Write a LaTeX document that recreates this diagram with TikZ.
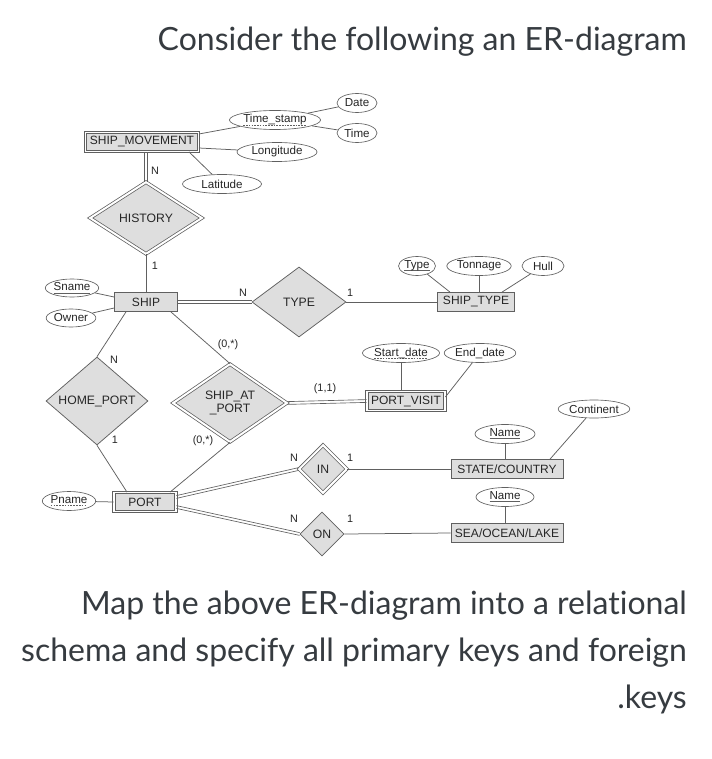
\documentclass[tikz,border=0pt]{standalone}
\usepackage{fontspec}
\setmainfont{Liberation Sans}
\newfontfamily\latofont[Ligatures={NoCommon}]{Lato}
\usetikzlibrary{shapes.geometric}
\definecolor{ln}{HTML}{606060}
\definecolor{fl}{HTML}{DEDEDE}
\definecolor{tx}{HTML}{262626}
\definecolor{hd}{HTML}{363B40}
\newcommand{\solidul}[1]{\setbox0\hbox{#1}\rlap{\raisebox{-2.2pt}{\color{ln}\rule{\wd0}{0.6pt}}}#1}
\newcommand{\dashul}[1]{\setbox0\hbox{#1}\rlap{\raisebox{-2.2pt}{\hbox to \wd0{\color{ln}\xleaders\hbox{\rule{1.6pt}{0.6pt}\hspace{1.1pt}}\hfill}}}#1}
\tikzset{
  ent/.style={draw=ln, fill=fl, line width=0.75pt, minimum height=19pt, inner sep=1pt, text=tx, font=\fontsize{12}{13.5}\selectfont},
  went/.style={ent, double=white, double distance=1.6pt},
  attr/.style={ellipse, draw=ln, fill=white, line width=0.65pt, minimum height=19pt, inner sep=0.5pt, text=tx, font=\fontsize{11.6}{12.5}\selectfont},
  rel/.style={diamond, draw=ln, fill=fl, line width=0.75pt, inner sep=0pt, text=tx, font=\fontsize{12.2}{13.5}\selectfont, align=center},
  wrel/.style={rel, double=white, double distance=2pt},
  conn/.style={draw=ln, line width=0.75pt},
  card/.style={text=tx, font=\fontsize{10.8}{12}\selectfont, inner sep=0pt},
  head/.style={text=hd, font=\latofont\fontsize{32}{38}\selectfont, inner sep=0pt}
}
\begin{document}
\begin{tikzpicture}[x=1pt,y=-1pt]
\useasboundingbox (0,0) rectangle (711,759);
\fill[white] (0,0) rectangle (711,759);

% headings
\node[head, anchor=base east] (title) at (687,51) {Consider the following an ER-diagram};
\node[head, anchor=base east] (b1) at (687,614) {Map the above ER-diagram into a relational};
\node[head, anchor=base east] (b2) at (687,661) {schema and specify all primary keys and foreign};
\node[head, anchor=base east] (b3) at (687,708) {.keys};

% entities
\node[went, minimum width=113pt] (sm) at (142,142) {SHIP\_MOVEMENT};
\node[ent, minimum width=63pt] (ship) at (146,302) {SHIP};
\node[ent, minimum width=77pt] (st) at (476,302) {SHIP\_TYPE};
\node[went, minimum width=78pt] (pv) at (406,401) {PORT\_VISIT};
\node[went, minimum width=62pt] (port) at (145,502) {PORT};
\node[ent, minimum width=112pt] (sc) at (507,469) {STATE/COUNTRY};
\node[ent, minimum width=112pt] (sol) at (507,533) {SEA/OCEAN/LAKE};

% relationships
\node[wrel, minimum width=112pt, minimum height=72pt] (hist) at (146,218) {HISTORY};
\node[rel, minimum width=94pt, minimum height=70pt] (type) at (299,302) {TYPE};
\node[wrel, minimum width=114pt, minimum height=78pt] (sap) at (230,403) {SHIP\_AT\\\_PORT};
\node[rel, minimum width=102pt, minimum height=72pt] (hp) at (97,401) {HOME\_PORT};
\node[wrel, minimum width=48pt, minimum height=48pt] (in) at (323,469) {IN};
\node[rel, minimum width=44pt, minimum height=44pt] (on) at (322,534) {ON};

% attributes
\node[attr, minimum width=78pt] (ts) at (275,120) {\dashul{Time\_stamp}};
\node[attr, minimum width=40pt] (date) at (357,103) {Date};
\node[attr, minimum width=40pt] (time) at (357,133) {Time};
\node[attr, minimum width=80pt] (lon) at (277,152) {Longitude};
\node[attr, minimum width=79pt] (lat) at (222,184) {Latitude};
\node[attr, minimum width=44pt, minimum height=18pt] (sname) at (72,288) {\solidul{Sname}};
\node[attr, minimum width=40pt, minimum height=18pt] (owner) at (71,318) {Owner};
\node[attr, minimum width=36pt] (ty) at (417,266) {\solidul{Type}};
\node[attr, minimum width=58pt] (ton) at (479,266) {Tonnage};
\node[attr, minimum width=42pt] (hull) at (543,266) {Hull};
\node[attr, minimum width=64pt] (sd) at (401,353) {\dashul{Start\_date}};
\node[attr, minimum width=56pt] (ed) at (480,353) {End\_date};
\node[attr, minimum width=42pt] (pname) at (69,501) {\dashul{Pname}};
\node[attr, minimum width=60pt] (n1) at (505,434) {\solidul{Name}};
\node[attr, minimum width=58pt, minimum height=18pt] (cont) at (594,409) {Continent};
\node[attr, minimum width=58pt] (n2) at (505,497) {\solidul{Name}};

% double connectors (two parallel lines)
\foreach \s in {-1.4,1.4}{
  \path[conn, line width=0.65pt] ([xshift=\s pt]hist.north) -- ([xshift=\s pt]hist.north |- sm.south);
  \path[conn, line width=0.65pt] ([yshift=\s pt]ship.east) -- ([yshift=\s pt]type.west);
  \path[conn, line width=0.65pt] ([yshift=\s pt]sap.east) -- ([yshift=\s pt]pv.west);
  \path[conn, line width=0.65pt] ([yshift=5pt+\s pt]port.east) -- ([yshift=\s pt]in.west);
  \path[conn, line width=0.65pt] ([yshift=-5pt+\s pt]port.east) -- ([yshift=\s pt]on.west);
}

% single connectors
\path[conn] (ts) -- ([yshift=8pt]sm.east);
\path[conn] (lon) -- ([yshift=-6pt]sm.east);
\path[conn] ([xshift=47pt]sm.south) -- (lat);
\path[conn] (ts) -- (date);
\path[conn] (ts) -- (time);
\path[conn] (hist.south) -- (ship.north);
\path[conn] (sname) -- ([yshift=5pt]ship.west);
\path[conn] (owner) -- ([yshift=-6pt]ship.west);
\path[conn] (type.east) -- (st.west);
\path[conn] (ty) -- ([xshift=-26pt]st.north);
\path[conn] (ton) -- (ton |- st.north);
\path[conn] (hull) -- ([xshift=26pt]st.north);
\path[conn] ([xshift=-7pt]ship.south east) -- (sap.north);
\path[conn] ([xshift=-20pt]ship.south) -- (hp.north);
\path[conn] (sd) -- (sd |- pv.north);
\path[conn] (ed) -- ([yshift=4pt]pv.east);
\path[conn] (hp.south) -- ([xshift=-18pt]port.north);
\path[conn] (sap.south) -- ([xshift=25pt]port.north);
\path[conn] (pname) -- (port.west);
\path[conn] (in.east) -- (sc.west);
\path[conn] (on.east) -- (sol.west);
\path[conn] (n1) -- (n1 |- sc.north);
\path[conn] (cont) -- ([xshift=43pt]sc.north);
\path[conn] (n2) -- (n2 |- sol.north);

% cardinalities
\node[card] (c1) at (155,171) {N};
\node[card] (c2) at (155,266) {1};
\node[card] (c3) at (243,293) {N};
\node[card] (c4) at (350,293) {1};
\node[card] (c5) at (228,345) {(0,*)};
\node[card] (c6) at (114,360) {N};
\node[card] (c7) at (325,389) {(1,1)};
\node[card] (c8) at (115,440) {1};
\node[card] (c9) at (203,441) {(0,*)};
\node[card] (c10) at (294,458) {N};
\node[card] (c11) at (350,458) {1};
\node[card] (c12) at (294,519) {N};
\node[card] (c13) at (350,519) {1};
\end{tikzpicture}
\end{document}
